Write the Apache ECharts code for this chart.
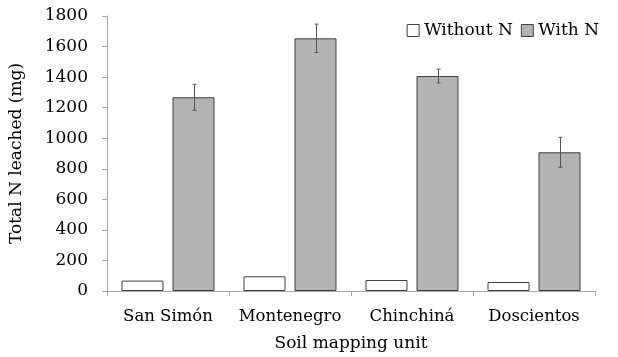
<!DOCTYPE html>
<html><head><meta charset="utf-8">
<script src="https://cdn.jsdelivr.net/npm/echarts@6/dist/echarts.min.js"></script>
<style>html,body{margin:0;padding:0;background:#fff}#c{width:618px;height:357px}</style>
</head><body><div id="c"></div>
<script>
const categories = ['San Simón', 'Montenegro', 'Chinchiná', 'Doscientos'];
const withoutN = [68, 96, 72, 59];
const withN = [1268, 1654, 1407, 908];
const withNErr = [85, 93, 45, 98];
const yTicks = [0, 200, 400, 600, 800, 1000, 1200, 1400, 1600, 1800];

const FONT = 'DejaVu Serif';
const BAR_W = 42, GAP = 9;
const chart = echarts.init(document.getElementById('c'), null, {renderer: 'canvas'});
chart.setOption({
  animation: false,
  backgroundColor: '#fff',
  textStyle: {fontFamily: FONT},
  grid: {left: 102, right: 23, top: 16, bottom: 66},
  legend: {
    right: 14, top: 17, itemWidth: 12, itemHeight: 12, itemGap: 8,
    textStyle: {fontFamily: FONT, fontSize: 17, color: '#000'},
    data: [
      {name: 'Without N', icon: 'rect', itemStyle: {color: '#fff', borderColor: '#404040', borderWidth: 1}},
      {name: 'With N', icon: 'rect', itemStyle: {color: '#b3b3b3', borderColor: '#404040', borderWidth: 1}}
    ]
  },
  xAxis: {
    type: 'category', data: categories,
    name: 'Soil mapping unit', nameLocation: 'middle', nameGap: 44,
    nameTextStyle: {fontFamily: FONT, fontSize: 17, color: '#000'},
    axisLine: {lineStyle: {color: '#a6a6a6'}},
    axisTick: {show: true, length: 5, interval: 0, lineStyle: {color: '#a6a6a6'}},
    axisLabel: {fontFamily: FONT, fontSize: 16.5, color: '#000', margin: 17, interval: 0, hideOverlap: false}
  },
  yAxis: {
    type: 'value', min: 0, max: 1800, interval: 200,
    name: 'Total N leached (mg)', nameLocation: 'middle', nameGap: 82, nameRotate: 90,
    nameTextStyle: {fontFamily: FONT, fontSize: 17, color: '#000'},
    axisLine: {show: true, lineStyle: {color: '#a6a6a6'}},
    axisTick: {show: true, length: 5, lineStyle: {color: '#a6a6a6'}},
    splitLine: {show: false},
    axisLabel: {fontFamily: FONT, fontSize: 17, color: '#000', margin: 19,
      formatter: v => yTicks.includes(v) ? String(v) : ''}
  },
  series: [
    {name: 'Without N', type: 'bar', data: withoutN, barWidth: BAR_W, barGap: (GAP / BAR_W * 100) + '%',
     itemStyle: {color: '#fff', borderColor: '#404040', borderWidth: 1}},
    {name: 'With N', type: 'bar', data: withN, barWidth: BAR_W,
     itemStyle: {color: '#b3b3b3', borderColor: '#404040', borderWidth: 1}},
    {name: 'err', type: 'custom', z: 10,
     data: withN.map((v, i) => [i, v - withNErr[i], v + withNErr[i]]),
     encode: {x: 0, y: [1, 2]},
     renderItem: function (params, api) {
       const i = api.value(0);
       const lo = api.coord([i, api.value(1)]);
       const hi = api.coord([i, api.value(2)]);
       const x = Math.round(lo[0] + (BAR_W + GAP) / 2) + 0.5;
       const cap = 2;
       const st = {stroke: '#555', lineWidth: 1};
       return {type: 'group', children: [
         {type: 'line', shape: {x1: x, y1: lo[1], x2: x, y2: hi[1]}, style: st},
         {type: 'line', shape: {x1: x - cap, y1: lo[1], x2: x + cap, y2: lo[1]}, style: st},
         {type: 'line', shape: {x1: x - cap, y1: hi[1], x2: x + cap, y2: hi[1]}, style: st}
       ]};
     }}
  ]
});
</script></body></html>
